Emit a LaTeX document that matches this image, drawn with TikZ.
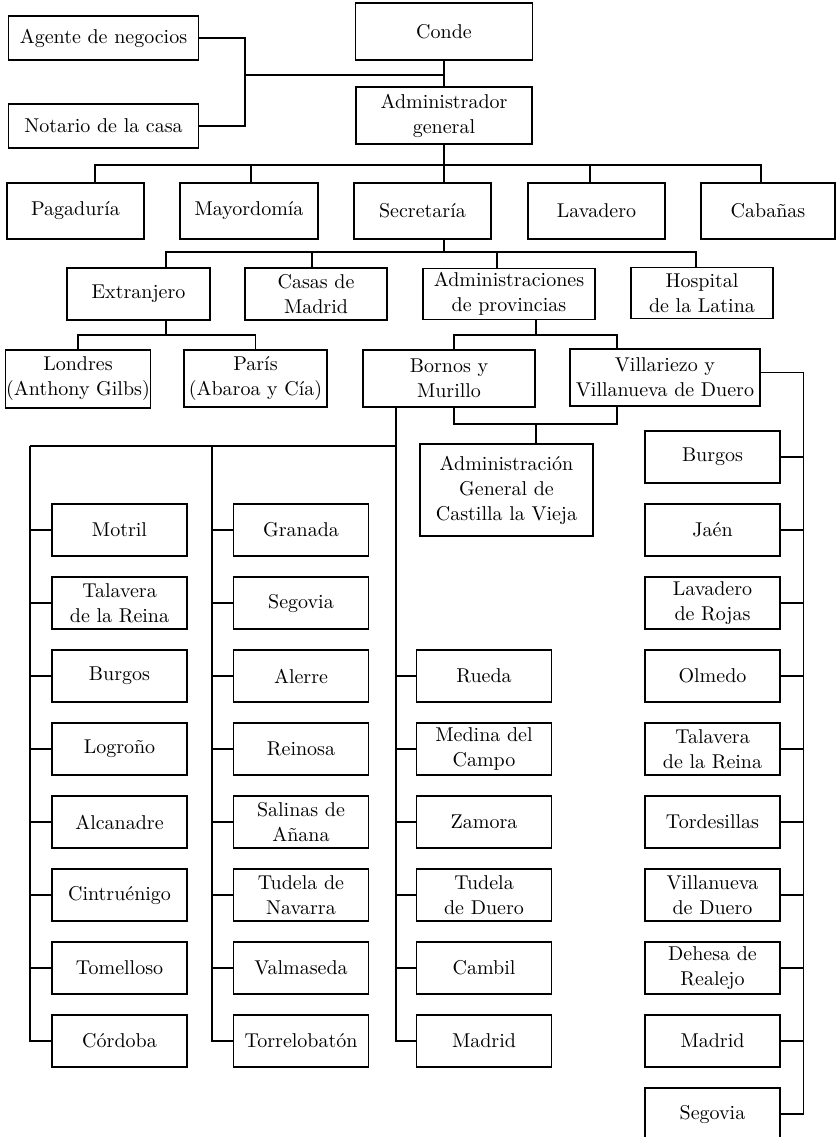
\documentclass[tikz,border=0pt]{standalone}
\usepackage{fontspec}
\usetikzlibrary{calc}

\begin{document}
\begin{tikzpicture}[x=0.5pt, y=-0.5pt, line width=.6pt,
    box/.style={draw, align=center, inner sep=0.5pt,
      font=\fontsize{10}{12.5}\selectfont},
    cell/.style={box, minimum width=67.5pt, minimum height=26pt},
    hv/.style={to path={-| (\tikztotarget)}},
    vh/.style={to path={|- (\tikztotarget)}}]
  \useasboundingbox (0,0) rectangle (836,1137);

  % cabeza
  \node[box, minimum width=88.5pt, minimum height=28.5pt] (conde) at (444,31.5) {Conde};
  \node[box, minimum width=88pt, minimum height=28.5pt] (admin) at (444,115.5) {Administrador\\general};
  \node[box, minimum width=95pt, minimum height=22pt] (agente) at (103.5,38) {Agente de negocios};
  \node[box, minimum width=95pt, minimum height=22pt] (notario) at (103.5,126) {Notario de la casa};
  \coordinate (j1) at (245,75);
  \draw (agente.east) -| (j1) |- (notario.east);
  \draw (j1) -- (j1 -| conde.south);
  \draw (conde) -- (admin);

  % oficinas
  \node[box, minimum width=68.5pt, minimum height=28pt] (pag) at (75.5,211) {Pagaduría};
  \node[box, minimum width=69pt, minimum height=28pt] (may) at (249,211) {Mayordomía};
  \node[box, minimum width=68.5pt, minimum height=28pt] (sec) at (422.5,211) {Secretaría};
  \node[box, minimum width=68.5pt, minimum height=28pt] (lav) at (596.5,211) {Lavadero};
  \node[box, minimum width=67pt, minimum height=28pt] (cab) at (768,211) {Cabañas};
  \coordinate (bus1) at (444,165);
  \draw (admin) -- (bus1);
  \path (bus1) edge[hv] ([shift={(19.5,0)}]pag.north)
               edge[hv] ([shift={(2,0)}]may.north)
               edge[hv] ([shift={(21.5,0)}]sec.north)
               edge[hv] ([shift={(-6.5,0)}]lav.north)
               edge[hv] ([shift={(-7,0)}]cab.north);

  % secretaria
  \node[box, minimum width=71.5pt, minimum height=26pt] (ext) at (138.5,294) {Extranjero};
  \node[box, minimum width=71pt, minimum height=26pt] (casas) at (316,294) {Casas de\\Madrid};
  \node[box, minimum width=86pt, minimum height=25.5pt] (admp) at (509,294) {Administraciones\\de provincias};
  \node[box, minimum width=71pt, minimum height=25.5pt] (hosp) at (702,293) {Hospital\\de la Latina};
  \coordinate (bus2) at (444,252);
  \draw ([shift={(21.5,0)}]sec.south) -- (bus2);
  \path (bus2) edge[hv] ([shift={(27.5,0)}]ext.north)
               edge[hv] ([shift={(-4,0)}]casas.north)
               edge[hv] ([shift={(-12,0)}]admp.north)
               edge[hv] ([shift={(-6,0)}]hosp.north);

  \node[box, minimum width=71pt, minimum height=29pt] (lon) at (78,379) {Londres\\(Anthony Gilbs)};
  \node[box, minimum width=71.5pt, minimum height=28.5pt] (par) at (255.5,378.5) {París\\(Abaroa y Cía)};
  \coordinate (bus3) at (166,335);
  \draw ([shift={(27.5,0)}]ext.south) -- (bus3);
  \path (bus3) edge[hv] (lon.north) edge[hv] (par.north);

  \node[box, minimum width=86pt, minimum height=28.5pt] (bornos) at (449,378.5) {Bornos y\\Murillo};
  \node[box, minimum width=95pt, minimum height=28.5pt] (vill) at (665,377.5) {Villariezo y\\Villanueva de Duero};
  \coordinate (bus4) at (536,335);
  \draw (bus4 |- admp.south) -- (bus4);
  \path (bus4) edge[hv] ([shift={(5,0)}]bornos.north)
               edge[hv] ([shift={(-48,0)}]vill.north);

  % Castilla la Vieja
  \node[box, minimum width=86.5pt, minimum height=46pt] (agcv) at (506.5,490) {Administración\\General de\\Castilla la Vieja};
  \coordinate (bus5) at (536,424);
  \path (bus5) edge[hv] ([shift={(5,0)}]bornos.south)
               edge[hv] ([shift={(-48,0)}]vill.south);
  \draw (bus5) -- (bus5 |- agcv.north);

  % Bornos y Murillo
  \coordinate (c3) at ([shift={(-53,0)}]bornos.south);
  \coordinate (c1) at (30,446);
  \coordinate (c2) at (212,446);
  \draw (c1) -- (c1 -| c3);

  \node[cell] (motril) at (119.5,530) {Motril};
  \node[cell] (talav)  at (119.5,603) {Talavera\\de la Reina};
  \node[cell] (burgos) at (119.5,676) {Burgos};
  \node[cell] (logr)   at (119.5,749) {Logroño};
  \node[cell] (alcan)  at (119.5,822) {Alcanadre};
  \node[cell] (cintr)  at (119.5,895) {Cintruénigo};
  \node[cell] (tomel)  at (119.5,968) {Tomelloso};
  \node[cell] (cordo)  at (119.5,1041) {Córdoba};
  \path (c1) edge[vh] (motril) edge[vh] (talav) edge[vh] (burgos) edge[vh] (logr)
             edge[vh] (alcan) edge[vh] (cintr) edge[vh] (tomel) edge[vh] (cordo);

  \node[cell] (grana)  at (301,530) {Granada};
  \node[cell] (segov)  at (301,603) {Segovia};
  \node[cell] (alerre) at (301,676) {Alerre};
  \node[cell] (reino)  at (301,749) {Reinosa};
  \node[cell] (salin)  at (301,822) {Salinas de\\Añana};
  \node[cell] (tudnav) at (301,895) {Tudela de\\Navarra};
  \node[cell] (valma)  at (301,968) {Valmaseda};
  \node[cell] (torre)  at (301,1041) {Torrelobatón};
  \path (c2) edge[vh] (grana) edge[vh] (segov) edge[vh] (alerre) edge[vh] (reino)
             edge[vh] (salin) edge[vh] (tudnav) edge[vh] (valma) edge[vh] (torre);

  \node[cell] (rueda)    at (484,676) {Rueda};
  \node[cell] (medina)   at (484,749) {Medina del\\Campo};
  \node[cell] (zamora)   at (484,822) {Zamora};
  \node[cell] (tudduero) at (484,895) {Tudela\\de Duero};
  \node[cell] (cambil)   at (484,968) {Cambil};
  \node[cell] (madrid)   at (484,1041) {Madrid};
  \path (c3) edge[vh] (rueda) edge[vh] (medina) edge[vh] (zamora)
             edge[vh] (tudduero) edge[vh] (cambil) edge[vh] (madrid);

  % Villariezo y Villanueva de Duero
  \coordinate (c4) at ([shift={(43,-5)}]vill.east);
  \draw ([shift={(0,-5)}]vill.east) -- (c4);
  \node[cell] (burgosb)  at (712.5,457) {Burgos};
  \node[cell] (jaen)     at (712.5,530) {Jaén};
  \node[cell] (lavrojas) at (712.5,603) {Lavadero\\de Rojas};
  \node[cell] (olmedo)   at (712.5,676) {Olmedo};
  \node[cell] (talavb)   at (712.5,749) {Talavera\\de la Reina};
  \node[cell] (tordes)   at (712.5,822) {Tordesillas};
  \node[cell] (villan)   at (712.5,895) {Villanueva\\de Duero};
  \node[cell] (dehesa)   at (712.5,968) {Dehesa de\\Realejo};
  \node[cell] (madridb)  at (712.5,1041) {Madrid};
  \node[cell] (segovb)   at (712.5,1114) {Segovia};
  \path (c4) edge[vh] (burgosb) edge[vh] (jaen) edge[vh] (lavrojas) edge[vh] (olmedo)
             edge[vh] (talavb) edge[vh] (tordes) edge[vh] (villan) edge[vh] (dehesa)
             edge[vh] (madridb) edge[vh] (segovb);
\end{tikzpicture}
\end{document}
